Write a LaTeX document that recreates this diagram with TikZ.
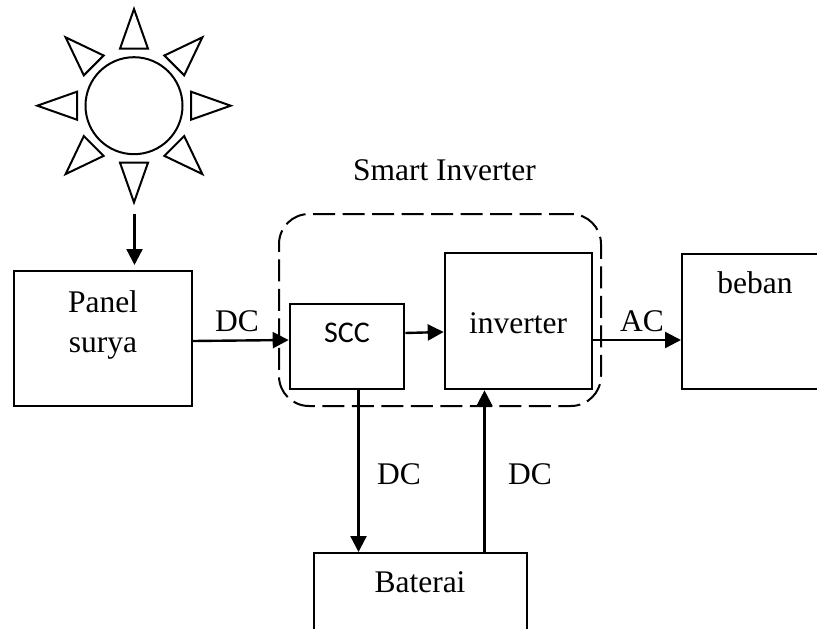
\documentclass[tikz,border=0pt]{standalone}
\usepackage{fontspec}
\setmainfont{Liberation Serif}
\newfontfamily\sccfont{Carlito}
\usetikzlibrary{arrows.meta,positioning}
\tikzset{every node/.style={font=\fontsize{31.5}{40}\selectfont},
blok/.style={draw,line width=2pt,inner sep=0pt},
tebal/.style={draw,line width=2.6pt,inner sep=0pt},
panah/.style={-{Triangle[length=16pt,width=16pt]},line width=2.4pt},
sinar/.style={draw,line width=2pt,line join=miter}
}

\begin{document}
\begin{tikzpicture}[x=1pt,y=-1pt]
        \useasboundingbox (0,0) rectangle (817,629);
        \clip (0,0) rectangle (817,629);
        \node[circle,draw,line width=2pt,minimum size=97pt,inner sep=0pt] (sun) at (134,105.7) {};
        \foreach \sudut in {0,45,...,315}
          \draw[sinar,rotate around={\sudut:(sun.center)}] (134,9) -- (148,48.7) -- (120,48.7) -- cycle;
        \coordinate (sinarA) at (134.5,214);
        \coordinate (sinarB) at (134.5,265);

        \node[blok,minimum width=178pt,minimum height=135pt] (panel) at (103,338) {};
        \node[tebal,minimum width=114pt,minimum height=85pt] (scc) at (347,346.5) {};
        \node[tebal,minimum width=147pt,minimum height=136pt] (inv) at (518.5,321) {};
        \node[blok,minimum width=160pt,minimum height=135pt] (beban) at (762,321) {};
        \node[blok,minimum width=213.5pt,minimum height=100pt] (baterai) at (420.3,603) {};
        \node[draw,dash pattern=on 22pt off 7.5pt,line width=2pt,rounded corners=30pt,minimum width=322pt,minimum height=192pt] (smart) at (440,310) {};

        \node (lblsmart) at (444.5,170) {Smart Inverter};
        \node[font=\sccfont\fontsize{30}{34}\selectfont] (lblscc) at (347,333) {SCC};
        \node (lblinv) at (518,323) {inverter};
        \node (lblbeban) at (755,283) {beban};
        \node (lblbat) at (420,582) {Baterai};
        \node[align=center] (lblpanel) at (103,325) {Panel\\surya};
        \node (dc1) at (237,321) {DC};
        \node (dc2) at (399,474) {DC};
        \node (dc3) at (530,474) {DC};
        \node (ac) at (642,321) {AC};

        \draw[panah] (sinarA) -- (sinarB);
        \draw[panah] (panel.east |- 0,341) -- (scc.west |- 0,340);
        \draw[panah] (scc.east |- 0,333) -- (inv.west |- 0,332);
        \draw[panah] (inv.east |- 0,340) -- (beban.west |- 0,340);
        \draw[panah] ([xshift=11.5pt]scc.south) -- ([xshift=11.5pt]scc.south |- baterai.north);
        \draw[panah] ([xshift=-34pt]inv.south |- baterai.north) -- ([xshift=-34pt]inv.south);
      \end{tikzpicture}
\end{document}
